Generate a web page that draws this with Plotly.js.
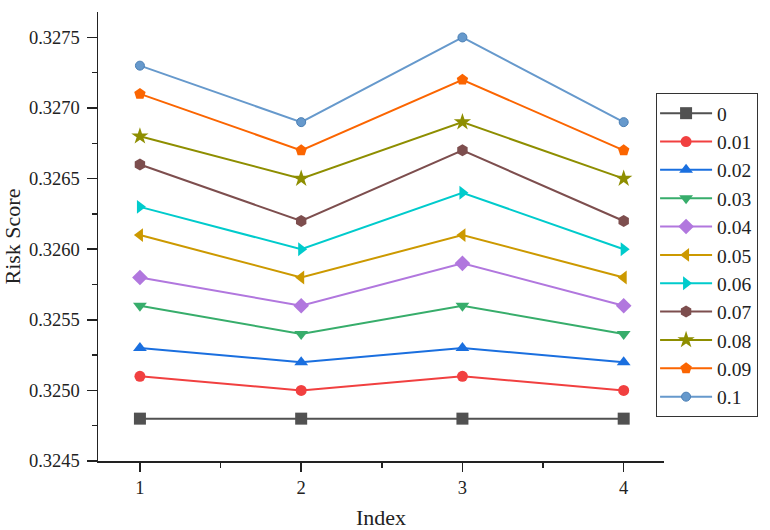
<!DOCTYPE html>
<html>
<head>
<meta charset="utf-8">
<script src="https://cdn.plot.ly/plotly-3.0.1.min.js"></script>
<style>html,body{margin:0;padding:0;background:#fff;}#chart{width:770px;height:530px;}</style>
</head>
<body>
<div id="chart"></div>
<script>
const indexValues = [1, 2, 3, 4];
const seriesNames = ["0", "0.01", "0.02", "0.03", "0.04", "0.05", "0.06", "0.07", "0.08", "0.09", "0.1"];
const s0    = [0.3248, 0.3248, 0.3248, 0.3248];
const s001  = [0.3251, 0.3250, 0.3251, 0.3250];
const s002  = [0.3253, 0.3252, 0.3253, 0.3252];
const s003  = [0.3256, 0.3254, 0.3256, 0.3254];
const s004  = [0.3258, 0.3256, 0.3259, 0.3256];
const s005  = [0.3261, 0.3258, 0.3261, 0.3258];
const s006  = [0.3263, 0.3260, 0.3264, 0.3260];
const s007  = [0.3266, 0.3262, 0.3267, 0.3262];
const s008  = [0.3268, 0.3265, 0.3269, 0.3265];
const s009  = [0.3271, 0.3267, 0.3272, 0.3267];
const s010  = [0.3273, 0.3269, 0.3275, 0.3269];
const seriesValues = [s0, s001, s002, s003, s004, s005, s006, s007, s008, s009, s010];
const colors = ["#515151", "#F14040", "#1A6FDF", "#37AD6B", "#B177DE", "#CC9900", "#00CBCC", "#7D4E4E", "#8E8E00", "#FB6501", "#6699CC"];
const symbols = ["square", "circle", "triangle-up", "triangle-down", "diamond", "triangle-left", "triangle-right", "hexagon", "star", "pentagon", "circle"];
const sizes = [12, 11, 12, 12, 12, 12, 12, 12, 13, 12, 9];

const traces = seriesNames.map((name, i) => ({
  x: indexValues,
  y: seriesValues[i],
  name: name,
  type: "scatter",
  mode: "lines+markers",
  legendgroup: "g" + i,
  line: {color: colors[i], width: 2},
  marker: {symbol: symbols[i], size: sizes[i], color: colors[i],
           line: {color: i === 10 ? "#4a7fb5" : colors[i], width: i === 10 ? 1 : 0}}
}));

const serif = "Liberation Serif, Times New Roman, serif";
const layout = {
  width: 770, height: 530,
  margin: {l: 98, r: 104, t: 12, b: 69},
  paper_bgcolor: "#fff", plot_bgcolor: "#fff",
  showlegend: true,
  font: {family: serif, color: "#222"},
  xaxis: {
    range: [0.74, 4.25],
    tickvals: indexValues,
    ticktext: indexValues.map(String),
    ticks: "outside", ticklen: 9, tickwidth: 1.5, tickcolor: "#222",
    minor: {dtick: 0.5, ticks: "outside", ticklen: 5, tickwidth: 1.5, tickcolor: "#222", tick0: 0.5},
    showline: true, linecolor: "#222", linewidth: 1.5,
    showgrid: false, zeroline: false,
    tickfont: {family: serif, size: 18.5, color: "#222"},
    title: {text: "Index", font: {family: serif, size: 22, color: "#222"}, standoff: 14}
  },
  yaxis: {
    range: [0.3245, 0.32768],
    tickmode: "linear", tick0: 0.3245, dtick: 0.0005,
    tickformat: ".4f",
    ticks: "outside", ticklen: 10, tickwidth: 1.5, tickcolor: "#222",
    ticklabelstandoff: 3,
    minor: {dtick: 0.00025, ticks: "outside", ticklen: 5, tickwidth: 1.5, tickcolor: "#222"},
    showline: true, linecolor: "#222", linewidth: 1.5,
    showgrid: false, zeroline: false,
    tickfont: {family: serif, size: 18.5, color: "#222"},
    title: {text: "Risk Score", font: {family: serif, size: 22, color: "#222"}, standoff: 6}
  },
  legend: {
    x: 0.986, y: 0.8196, xanchor: "left", yanchor: "top",
    bordercolor: "#333", borderwidth: 1, bgcolor: "#fff",
    font: {family: serif, size: 19.5, color: "#222"},
    traceorder: "grouped", tracegroupgap: 0,
    itemwidth: 50
  }
};
Plotly.newPlot("chart", traces, layout, {displayModeBar: false, staticPlot: true}).then(gd => {
  // lengthen the legend sample lines to match the reference style
  gd.querySelectorAll(".legend .traces").forEach(t => {
    t.querySelectorAll("path.js-line").forEach(p => p.setAttribute("d", "M3,0h52"));
    t.querySelectorAll(".legendpoints path.scatterpts").forEach(p => p.setAttribute("transform", "translate(29,0)"));
  });
});
</script>
</body>
</html>
